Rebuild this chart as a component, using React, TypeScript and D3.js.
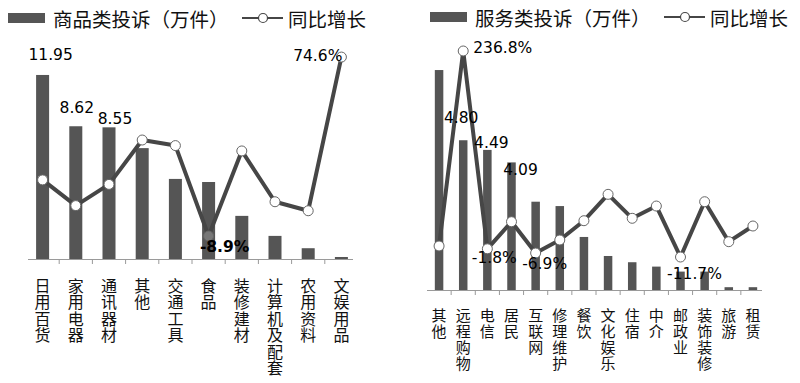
import React from "react";
import * as d3 from "d3";

const goodsCats = ["日用百货", "家用电器", "通讯器材", "其他", "交通工具", "食品", "装修建材", "计算机及配套", "农用资料", "文娱用品"];
const goodsCount = [11.95, 8.62, 8.55, 7.2, 5.2, 5.0, 2.8, 1.5, 0.7, 0.13];
const goodsGrowth = [17.3, 5.3, 15.2, 35.9, 33.3, -8.9, 30.8, 7.1, 2.9, 74.6];

const serviceCats = ["其他", "远程购物", "电信", "居民", "互联网", "修理维护", "餐饮", "文化娱乐", "住宿", "中介", "邮政业", "装饰装修", "旅游", "租赁"];
const serviceCount = [7.05, 4.8, 4.49, 4.09, 2.83, 2.69, 1.7, 1.09, 0.89, 0.75, 0.59, 0.59, 0.09, 0.09];
const serviceGrowth = [1.6, 236.8, -1.8, 30.9, -6.9, 8.8, 32.1, 63.9, 35, 49.8, -11.7, 55, 6.8, 25.7];

// labels: [index, kind, text]
const goodsLabels: [number, string, string][] = [
  [0, "bar", "11.95"], [1, "bar", "8.62"], [2, "bar", "8.55"], [9, "line", "74.6%"], [5, "line", "-8.9%"],
];
const serviceLabels: [number, string, string][] = [
  [1, "bar", "4.80"], [2, "bar", "4.49"], [3, "bar", "4.09"], [1, "line", "236.8%"], [2, "line", "-1.8%"], [4, "line", "-6.9%"], [10, "line", "-11.7%"],
];

const BAR = "#555555";
const LINE = "#464646";
const CJK = "'Noto Sans CJK SC', sans-serif";
const NUM = "'DejaVu Sans', sans-serif";

type PanelProps = {
  cats: string[]; counts: number[]; growth: number[]; labels: [number, string, string][];
  x0: number; x1: number; axisX0: number; axisX1: number; baseY: number;
  barMax: number; barTopY: number; gDom: [number, number]; gRange: [number, number];
  barW: number; legendX: number; legendY: number; legendTitle: string;
  catTop: number; catStep: number; catFont: number;
  labelOffsets: Record<string, [number, number, string, number?]>;
  darkMarker?: number;
};

function Panel(p: PanelProps) {
  const x = d3.scaleBand<string>().domain(p.cats).range([p.x0, p.x1]).padding(0);
  const yb = d3.scaleLinear().domain([0, p.barMax]).range([p.baseY, p.barTopY]);
  const yl = d3.scaleLinear().domain(p.gDom).range(p.gRange);
  const cx = (c: string) => (x(c) as number) + x.bandwidth() / 2;
  const line = d3.line<number>().x((_, i) => cx(p.cats[i])).y((d) => yl(d));
  const ticks = p.cats.slice(1).map((c) => x(c) as number);
  return (
    <g>
      {/* legend */}
      <rect x={p.legendX} y={p.legendY - 5} width={37} height={10} fill={BAR} />
      <text x={p.legendX + 45} y={p.legendY} dominantBaseline="central" fontFamily={CJK} fontSize={19.5} fill="#111">{p.legendTitle}</text>
      <line x1={p.legendX + 234} x2={p.legendX + 275} y1={p.legendY} y2={p.legendY} stroke={LINE} strokeWidth={2} />
      <circle cx={p.legendX + 255} cy={p.legendY} r={4.5} fill="#fff" stroke={LINE} strokeWidth={1.2} />
      <text x={p.legendX + 280} y={p.legendY} dominantBaseline="central" fontFamily={CJK} fontSize={19.5} fill="#111">同比增长</text>

      {/* bars */}
      {p.counts.map((v, i) => (
        <rect key={i} x={cx(p.cats[i]) - p.barW / 2} y={yb(v)} width={p.barW} height={p.baseY - yb(v)} fill={BAR} />
      ))}
      {/* axis */}
      <line x1={p.axisX0} x2={p.axisX1} y1={p.baseY + 0.5} y2={p.baseY + 0.5} stroke="#9a9a9a" strokeWidth={1.2} />
      {ticks.map((t, i) => (
        <line key={i} x1={t} x2={t} y1={p.baseY} y2={p.baseY + 5} stroke="#9a9a9a" strokeWidth={1} />
      ))}
      {/* line */}
      <path d={line(p.growth) || ""} fill="none" stroke={LINE} strokeWidth={4} strokeLinejoin="round" />
      {p.growth.map((v, i) => (
        <circle key={i} cx={cx(p.cats[i])} cy={yl(v)} r={5} fill={i === p.darkMarker ? "#777" : "#fff"} stroke="#666" strokeWidth={1} />
      ))}
      {/* value labels */}
      {p.labels.map(([i, kind, t], k) => {
        const off = p.labelOffsets[kind + i] || [0, -8, "middle"];
        const bx = cx(p.cats[i]);
        const by = kind === "bar" ? yb(p.counts[i]) : yl(p.growth[i]);
        return (
          <text key={k} x={bx + off[0]} y={by + off[1]} textAnchor={off[2] as any} fontFamily={NUM} fontSize={15.5}
            fontWeight={off[3] || 400} fill="#000">{t}</text>
        );
      })}
      {/* category labels (vertical) */}
      {p.cats.map((c, i) => (
        <text key={i} x={cx(c)} y={p.catTop} fontFamily={CJK} fontSize={p.catFont} fill="#111"
          style={{ writingMode: "vertical-rl", letterSpacing: `${p.catStep - p.catFont}px` } as any}>
          {c}
        </text>
      ))}
    </g>
  );
}

export default function App() {
  return (
    <svg width={800} height={383} style={{ position: "absolute", left: 0, top: 0, background: "#fff" }}>
      <rect width={800} height={383} fill="#fff" />
      <Panel
        cats={goodsCats} counts={goodsCount} growth={goodsGrowth} labels={goodsLabels}
        x0={26} x1={358} axisX0={28} axisX1={353} baseY={259}
        barMax={14} barTopY={259 - 14 * 15.4} gDom={[-10, 80]} gRange={[238.4, 45.5]}
        barW={13} legendX={8} legendY={18} legendTitle="商品类投诉（万件）"
        catTop={278} catStep={16.4} catFont={16}
        labelOffsets={{ bar0: [8, -15, "middle"], bar1: [1, -13, "middle"], bar2: [6, -3, "middle"], line9: [1, 4, "end"], line5: [16, 16, "middle", 700] }}
        darkMarker={5}
      />
      <Panel
        cats={serviceCats} counts={serviceCount} growth={serviceGrowth} labels={serviceLabels}
        x0={427} x1={765} axisX0={427} axisX1={762} baseY={290}
        barMax={8} barTopY={290 - 8 * 31.2} gDom={[-20, 250]} gRange={[263.9, 40.05]}
        barW={8.5} legendX={430} legendY={17} legendTitle="服务类投诉（万件）"
        catTop={308} catStep={15.8} catFont={15}
        labelOffsets={{ bar1: [-2, -17, "middle"], bar2: [4, -2, "middle"], bar3: [9, 13, "middle"], line1: [10, 2, "start"], line2: [7, 14, "middle"], line4: [9, 16, "middle"], line10: [14, 22, "middle"] }}
      />
    </svg>
  );
}
